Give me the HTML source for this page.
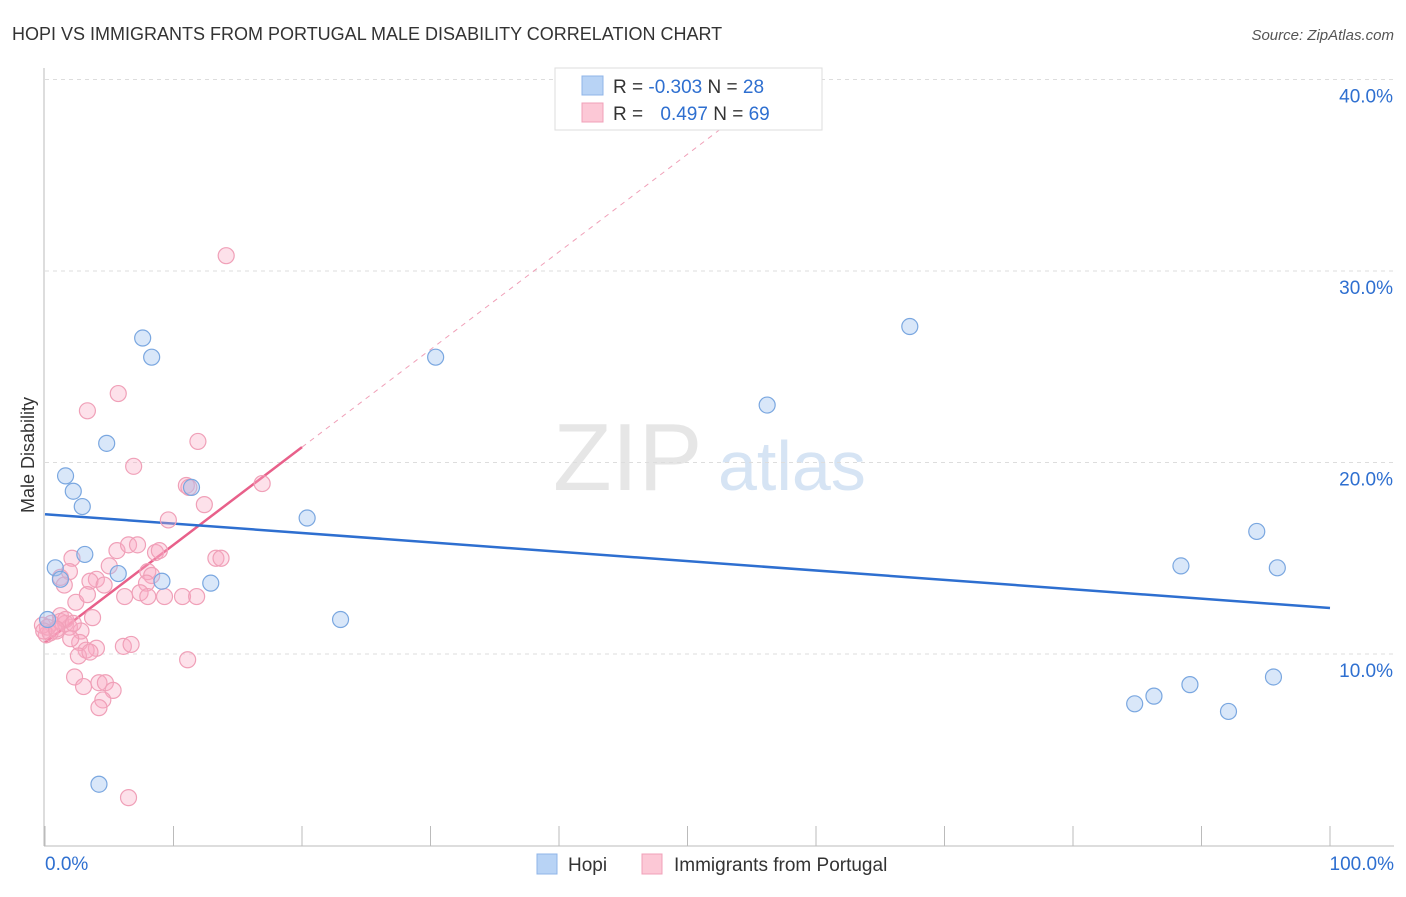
<!DOCTYPE html>
<html><head><meta charset="utf-8"><style>
body{margin:0;background:#fff;font-family:"Liberation Sans",sans-serif;}
svg text{font-family:"Liberation Sans",sans-serif;}
</style></head><body>
<svg id="chart" width="1406" height="892">
<text x="12" y="40" font-size="18" fill="#333">HOPI VS IMMIGRANTS FROM PORTUGAL MALE DISABILITY CORRELATION CHART</text>
<text x="1394" y="40" font-size="15" fill="#555" font-style="italic" text-anchor="end">Source: ZipAtlas.com</text>
<text x="553" y="490" font-size="96" fill="#e6e6e6" font-family="Liberation Serif">ZIP</text>
<text x="718" y="490" font-size="70" fill="#d6e4f4">atlas</text>
<g id="grid"></g><g id="axes"></g><g id="lines"></g><g id="points"></g>
<text x="34" y="455" font-size="18" fill="#333" transform="rotate(-90 34 455)" text-anchor="middle">Male Disability</text>
<g>
<rect x="555" y="68" width="267" height="62" fill="#fff" stroke="#ddd"/>
<rect x="582" y="76" width="21" height="19" fill="#b8d3f5" stroke="#8fb5e8"/>
<rect x="582" y="103" width="21" height="19" fill="#fcc8d6" stroke="#f0a0b8"/>
<text x="613" y="93" font-size="19" fill="#333">R = <tspan fill="#2e6fd0">-0.303</tspan>  N = <tspan fill="#2e6fd0">28</tspan></text>
<text x="613" y="120" font-size="19" fill="#333">R = <tspan fill="#2e6fd0" dx="12">0.497</tspan>  N = <tspan fill="#2e6fd0">69</tspan></text>
</g>
<g>
<rect x="537" y="854" width="20" height="20" fill="#b8d3f5" stroke="#8fb5e8"/>
<text x="568" y="871" font-size="19" fill="#333">Hopi</text>
<rect x="642" y="854" width="20" height="20" fill="#fcc8d6" stroke="#f0a0b8"/>
<text x="674" y="871" font-size="19" fill="#333">Immigrants from Portugal</text>
</g>
</svg>
<script>
const yTicks=[10,20,30,40];
const yTickLabels=["10.0%","20.0%","30.0%","40.0%"];
const hopiX=[7.6,8.3,4.8,1.6,2.2,2.9,3.1,0.8,1.2,5.7,9.1,11.4,12.9,20.4,23.0,30.4,56.2,67.3,94.3,88.4,95.9,84.8,86.3,89.1,92.1,95.6,4.2,0.2];
const hopiY=[26.5,25.5,21.0,19.3,18.5,17.7,15.2,14.5,13.9,14.2,13.8,18.7,13.7,17.1,11.8,25.5,23.0,27.1,16.4,14.6,14.5,7.4,7.8,8.4,7.0,8.8,3.2,11.8];
const portX=[14.1,5.7,3.3,11.9,6.9,16.9,11.0,11.2,12.4,9.6,2.1,5.6,6.5,7.2,8.6,8.9,5.0,1.2,1.9,1.5,4.0,3.5,4.6,8.0,8.3,7.9,6.2,7.4,8.0,9.3,10.7,11.8,13.3,13.7,2.4,3.3,1.2,3.7,0.5,0.9,1.6,1.9,2.8,0.1,0.4,2.7,4.0,3.2,2.6,3.5,6.1,6.7,11.1,2.3,3.0,4.2,4.7,5.3,4.5,4.2,6.5,-0.2,0.2,1.2,1.6,-0.1,2.2,0.9,2.0];
const portY=[30.8,23.6,22.7,21.1,19.8,18.9,18.8,18.7,17.8,17.0,15.0,15.4,15.7,15.7,15.3,15.4,14.6,14.0,14.3,13.6,13.9,13.8,13.6,14.3,14.1,13.7,13.0,13.2,13.0,13.0,13.0,13.0,15.0,15.0,12.7,13.1,12.0,11.9,11.6,11.2,11.6,11.4,11.2,11.0,11.1,10.6,10.3,10.2,9.9,10.1,10.4,10.5,9.7,8.8,8.3,8.5,8.5,8.1,7.6,7.2,2.5,11.5,11.4,11.7,11.8,11.2,11.6,11.3,10.8];
const blueFit=[17.3,12.4];
const pinkFit=[10.6,20.8];
const X0=45,X1=1330,YB=845.5,PX=19.15;
const sx=v=>X0+(X1-X0)*v/100, sy=v=>YB-v*PX;
const NS="http://www.w3.org/2000/svg";
function mk(p,t,a){const e=document.createElementNS(NS,t);for(const k in a)e.setAttribute(k,a[k]);document.getElementById(p).appendChild(e);return e;}
yTicks.forEach((t,i)=>{
 const g=mk("grid","line",{x1:45,x2:1394,y1:sy(t),y2:sy(t),stroke:"#ddd","stroke-dasharray":"4,4"});
 
 
 const l=mk("grid","text",{x:1393,y:sy(t)+23,"font-size":19,fill:"#2e6fd0","text-anchor":"end"});
 l.textContent=yTickLabels[i];
 
 
});
const ax=mk("axes","line",{x1:44,x2:44,y1:68,y2:846,stroke:"#bbb"});


const bx=mk("axes","line",{x1:44,x2:1394,y1:846,y2:846,stroke:"#bbb"});


for(let i=0;i<=10;i++){const t=mk("axes","line",{x1:sx(i*10),x2:sx(i*10),y1:826,y2:846,stroke:"#bbb"});
 
 }
const xl0=mk("axes","text",{x:45,y:870,"font-size":19,fill:"#2e6fd0"});xl0.textContent="0.0%";


const xl1=mk("axes","text",{x:1394,y:870,"font-size":19,fill:"#2e6fd0","text-anchor":"end"});xl1.textContent="100.0%";


const ps=(pinkFit[1]-pinkFit[0])/20;
const pd=mk("lines","line",{x1:sx(20),y1:sy(pinkFit[1]),x2:sx(54),y2:sy(pinkFit[0]+ps*54),stroke:"#f0a0b8","stroke-dasharray":"5,5"});


const pl=mk("lines","line",{x1:sx(0),y1:sy(pinkFit[0]),x2:sx(20),y2:sy(pinkFit[1]),stroke:"#e8608a","stroke-width":2.5});


const bl=mk("lines","line",{x1:sx(0),y1:sy(blueFit[0]),x2:sx(100),y2:sy(blueFit[1]),stroke:"#2e6fd0","stroke-width":2.5});


portX.forEach((x,i)=>{const c=mk("points","circle",{cx:sx(x),cy:sy(portY[i]),r:8,fill:"rgba(248,170,195,0.35)",stroke:"#f0a0b8","stroke-width":1.2});
 
 });
hopiX.forEach((x,i)=>{const c=mk("points","circle",{cx:sx(x),cy:sy(hopiY[i]),r:8,fill:"rgba(160,195,240,0.4)",stroke:"#7aa7e0","stroke-width":1.2});
 
 });
</script>
</body></html>
